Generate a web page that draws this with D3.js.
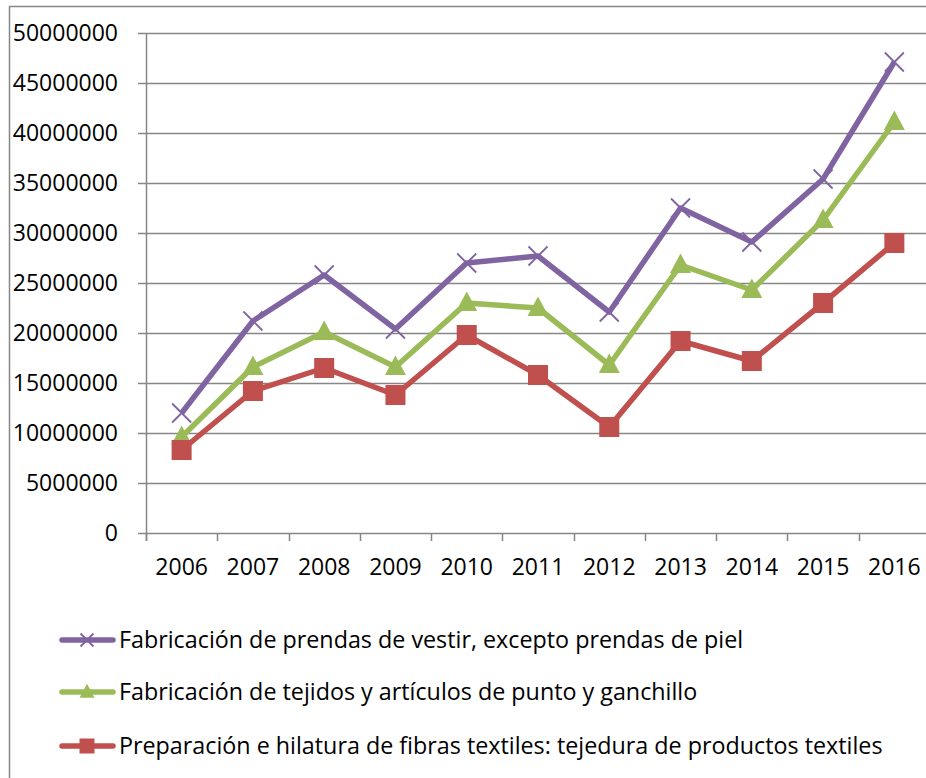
<!DOCTYPE html>
<html>
<head>
<meta charset="utf-8">
<script src="https://cdn.jsdelivr.net/npm/d3@7"></script>
<style>
  body { margin: 0; background: #fff; }
  svg { display: block; font-family: "Open Sans", sans-serif; }
</style>
</head>
<body>
<div class="chart"></div>
<script>
// Chart data
const years = ["2006", "2007", "2008", "2009", "2010", "2011", "2012", "2013", "2014", "2015", "2016"];
const prendas = [12000000, 21200000, 25800000, 20400000, 27000000, 27700000, 22100000, 32500000, 29100000, 35400000, 47100000];
const tejidos = [9600000, 16600000, 20100000, 16600000, 23000000, 22500000, 16800000, 26800000, 24300000, 31300000, 41100000];
const hilatura = [8300000, 14200000, 16500000, 13800000, 19800000, 15800000, 10600000, 19200000, 17200000, 23000000, 29000000];
const yTicks = [0, 5000000, 10000000, 15000000, 20000000, 25000000, 30000000, 35000000, 40000000, 45000000, 50000000];

const seriesNames = [
    "Fabricación de prendas de vestir, excepto prendas de piel",
    "Fabricación de tejidos y artículos de punto y ganchillo",
    "Preparación e hilatura de fibras textiles: tejedura de productos textiles"
];

// Sizes
let width = 926;
let height = 778;

let margin = {
    top: 33,
    right: -4,
    left: 146,
    bottom: 245
};

let svg = d3.select(".chart").append("svg")
    .attr("width", width)
    .attr("height", height);

// Outer chart border
svg.append("rect")
    .attr("x", 9.5)
    .attr("y", 6.5)
    .attr("width", 940)
    .attr("height", 800)
    .attr("fill", "none")
    .attr("stroke", "#868686")
    .attr("stroke-width", 1.5);

const xScale = d3.scaleBand()
    .domain(years)
    .range([margin.left, width - margin.right]);

const yScale = d3.scaleLinear()
    .domain([0, 50000000])
    .range([height - margin.bottom, margin.top]);

// Gridlines
svg.append("g")
    .selectAll("line")
    .data(yTicks)
    .join("line")
    .attr("x1", margin.left - 8)
    .attr("x2", width - margin.right)
    .attr("y1", d => Math.round(yScale(d)) + 0.5)
    .attr("y2", d => Math.round(yScale(d)) + 0.5)
    .attr("stroke", "#868686")
    .attr("stroke-width", 1.5);

// Y axis labels
svg.append("g")
    .selectAll("text")
    .data(yTicks)
    .join("text")
    .attr("x", 118)
    .attr("y", d => yScale(d))
    .attr("dy", "0.36em")
    .attr("text-anchor", "end")
    .style("font-size", "23px")
    .style("fill", "#000")
    .text(d => d);

// Y axis line
svg.append("line")
    .attr("x1", margin.left + 0.5)
    .attr("x2", margin.left + 0.5)
    .attr("y1", margin.top)
    .attr("y2", height - margin.bottom + 8)
    .attr("stroke", "#868686")
    .attr("stroke-width", 1.5);

// X axis ticks (between categories)
const xTicks = years.map(d => xScale(d)).concat([xScale.range()[1]]);
svg.append("g")
    .selectAll("line")
    .data(xTicks)
    .join("line")
    .attr("x1", d => Math.round(d) + 0.5)
    .attr("x2", d => Math.round(d) + 0.5)
    .attr("y1", height - margin.bottom)
    .attr("y2", height - margin.bottom + 8)
    .attr("stroke", "#868686")
    .attr("stroke-width", 1.5);

// X axis labels
svg.append("g")
    .selectAll("text")
    .data(years)
    .join("text")
    .attr("x", d => xScale(d) + xScale.bandwidth() / 2)
    .attr("y", 575)
    .attr("text-anchor", "middle")
    .style("font-size", "23px")
    .style("fill", "#000")
    .text(d => d);

const cx = d => xScale(d) + xScale.bandwidth() / 2;

const series = [
    { name: seriesNames[0], values: prendas, color: "#8064A2", marker: "x" },
    { name: seriesNames[1], values: tejidos, color: "#9BBB59", marker: "triangle" },
    { name: seriesNames[2], values: hilatura, color: "#C0504D", marker: "square" }
];

const line = d3.line()
    .x((d, i) => cx(years[i]))
    .y(d => yScale(d));

// Draw a marker of a given type at x, y
function drawMarker(g, type, x, y, size, color) {
    if (type === "x") {
        const s = size / 2;
        g.append("path")
            .attr("d", `M${x - s},${y - s}L${x + s},${y + s}M${x - s},${y + s}L${x + s},${y - s}`)
            .attr("stroke", color)
            .attr("stroke-width", 1.8)
            .attr("fill", "none");
    }
    else if (type === "triangle") {
        const s = size / 2;
        g.append("path")
            .attr("d", `M${x},${y - s * 1.1}L${x + s},${y + s * 0.75}L${x - s},${y + s * 0.75}Z`)
            .attr("fill", color);
    }
    else {
        const s = size / 2;
        g.append("rect")
            .attr("x", x - s)
            .attr("y", y - s)
            .attr("width", size)
            .attr("height", size)
            .attr("fill", color);
    }
}

const markerSize = { x: 19, triangle: 21, square: 20 };

series.forEach(s => {
    const g = svg.append("g");
    g.append("path")
        .datum(s.values)
        .attr("d", line)
        .attr("fill", "none")
        .attr("stroke", s.color)
        .attr("stroke-width", 5.5)
        .attr("stroke-linejoin", "round");
    s.values.forEach((v, i) => {
        drawMarker(g, s.marker, cx(years[i]), yScale(v), markerSize[s.marker], s.color);
    });
});

// Legend
const legendY = [640, 692, 746];
const legendMarkerSize = { x: 13, triangle: 15, square: 15 };
series.forEach((s, i) => {
    const g = svg.append("g");
    g.append("line")
        .attr("x1", 62)
        .attr("x2", 113)
        .attr("y1", legendY[i])
        .attr("y2", legendY[i])
        .attr("stroke", s.color)
        .attr("stroke-width", 5.5)
        .attr("stroke-linecap", "round");
    drawMarker(g, s.marker, 87, legendY[i], legendMarkerSize[s.marker], s.color);
    g.append("text")
        .attr("x", 119)
        .attr("y", legendY[i])
        .attr("dy", "0.36em")
        .style("font-size", "23.3px")
        .style("fill", "#000")
        .text(s.name);
});
</script>
</body>
</html>
